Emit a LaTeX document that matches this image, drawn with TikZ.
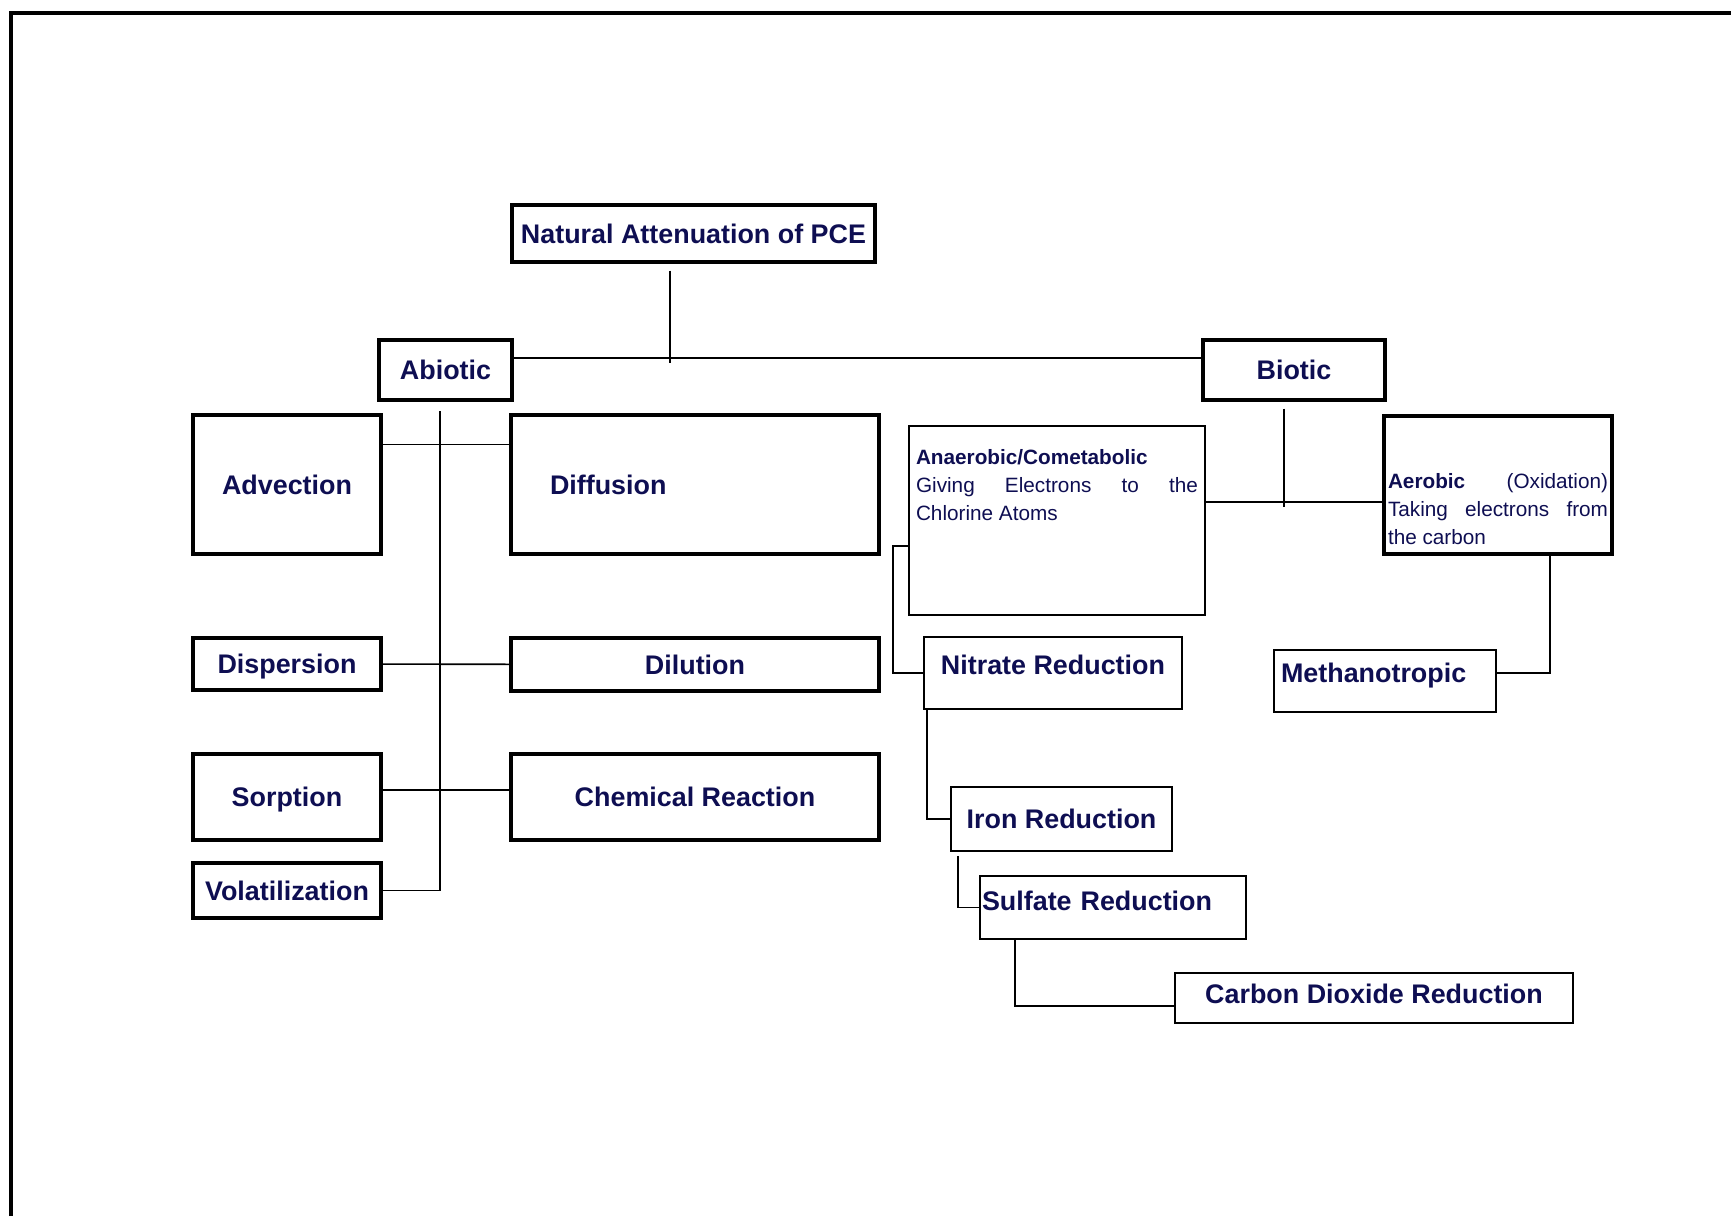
\documentclass[tikz,border=0pt]{standalone}
\usepackage{fontspec}
\setmainfont{Liberation Sans}
\usepackage{tikz}
\usetikzlibrary{calc,positioning}
\definecolor{inknavy}{RGB}{14,14,82}
\tikzset{%
	mainbox/.style = {draw, rectangle, line width=0.9pt, inner sep=0pt, text depth=0pt, text=inknavy, font=\fontsize{7.65}{9}\selectfont\bfseries},
	subbox/.style  = {mainbox, line width=0.45pt},
	notebox/.style = {draw, rectangle, inner sep=0pt, text=inknavy, align=justify, font=\fontsize{5.9}{7.97}\selectfont,
		execute at begin node={\hyphenpenalty=10000\relax\tolerance=10000\relax}},
	connector/.style = {line width=0.45pt, black},
}

\begin{document}
\begin{tikzpicture}[x=0.1mm,y=-0.1mm]
		\useasboundingbox (0,0) rectangle (1731,1216);
		% page frame
		\draw[line width=1.1pt] (11,1216) -- (11,13) -- (1731,13);
		
		% top level
		\node[mainbox, minimum width=3.63cm, minimum height=0.57cm] (natural) at (693.5,233.5) {Natural Attenuation of PCE};
		\node[mainbox, minimum width=1.33cm, minimum height=0.60cm] (abiotic) at (445.5,370) {Abiotic};
		\node[mainbox, minimum width=1.82cm, minimum height=0.60cm] (biotic) at (1294,370) {Biotic};
		\coordinate (split) at (670,358);
		
		% abiotic processes
		\node[mainbox, minimum width=1.88cm, minimum height=1.39cm] (advection) at (287,484.5) {Advection};
		\node[mainbox, minimum width=3.68cm, minimum height=1.39cm, text width=2.9cm, inner xsep=0.39cm, align=left] (diffusion) at (695,484.5) {Diffusion};
		\node[mainbox, minimum width=1.88cm, minimum height=0.52cm] (dispersion) at (287,664) {Dispersion};
		\node[mainbox, minimum width=3.68cm, minimum height=0.53cm] (dilution) at (695,664.5) {Dilution};
		\node[mainbox, minimum width=1.88cm, minimum height=0.86cm] (sorption) at (287,797) {Sorption};
		\node[mainbox, minimum width=3.68cm, minimum height=0.86cm] (chemical) at (695,797) {Chemical Reaction};
		\node[mainbox, minimum width=1.88cm, minimum height=0.55cm] (volatilization) at (287,890.5) {Volatilization};
		\coordinate (abiospine) at (440,411);
		
		% biotic processes
		\node[notebox, text width=2.82cm, inner xsep=0.07cm, text height=0.38cm, text depth=1.51cm] (anaerobic) at (1057,520.5) {\textbf{Anaerobic/Cometabolic}\\ Giving Electrons to the Chlorine Atoms};
		\node[notebox, line width=0.9pt, text width=2.2cm, inner xsep=0.04cm, text height=0.72cm, text depth=0.66cm] (aerobic) at (1498,485) {\textbf{Aerobic} (Oxidation) Taking electrons from the carbon};
		\coordinate (biojoint) at (1284,502);
		\coordinate (anabracket) at (893,546);
		
		\node[subbox, minimum width=2.58cm, text height=0.37cm, text depth=0.35cm] (nitrate) at (1053,673) {Nitrate Reduction};
		\node[subbox, minimum width=2.22cm, text width=2.08cm, inner xsep=0.07cm, align=left, text height=0.32cm, text depth=0.30cm] (methanotropic) at (1385,681) {Methanotropic};
		\node[subbox, minimum width=2.21cm, minimum height=0.64cm] (iron) at (1061.5,819) {Iron Reduction};
		\node[subbox, minimum width=2.66cm, text width=2.62cm, inner xsep=0.02cm, align=left, text height=0.34cm, text depth=0.29cm] (sulfate) at (1113,907.5) {Sulfate Reduction};
		\node[subbox, minimum width=3.98cm, text height=0.30cm, text depth=0.20cm] (co2) at (1374,998) {Carbon Dioxide Reduction};
		
		% connectors
		\draw[connector] ([yshift=-0.7mm]split |- natural.south) -- ([yshift=-0.5mm]split);
		\draw[connector] (abiotic.east |- split) -- (biotic.west |- split);
		
		\draw[connector] (abiospine) |- (volatilization.east);
		\draw[connector] ([yshift=4mm]advection.east) -- ([yshift=4mm]diffusion.west);
		\draw[connector] (dispersion) -- (dilution);
		\draw[connector] ([yshift=0.7mm]sorption.east) -- ([yshift=0.7mm]chemical.west);
		
		\draw[connector] ([yshift=-0.7mm]biojoint |- biotic.south) -- ([yshift=-0.5mm]biojoint);
		\draw[connector] (anaerobic.east |- biojoint) -- (aerobic.west |- biojoint);
		\draw[connector] (anaerobic.west |- anabracket) -- (anabracket) |- (nitrate.west);
		\draw[connector] ([xshift=0.4mm]nitrate.south west) |- (iron.west);
		\draw[connector] ([xshift=0.8mm,yshift=-0.4mm]iron.south west) |- (sulfate.west);
		\draw[connector] ([xshift=3.6mm]sulfate.south west) |- ([yshift=-0.8mm]co2.west);
		\draw[connector] ([yshift=0.8mm]methanotropic.east) -| ([xshift=5.2mm]aerobic.south);
\end{tikzpicture}
\end{document}
